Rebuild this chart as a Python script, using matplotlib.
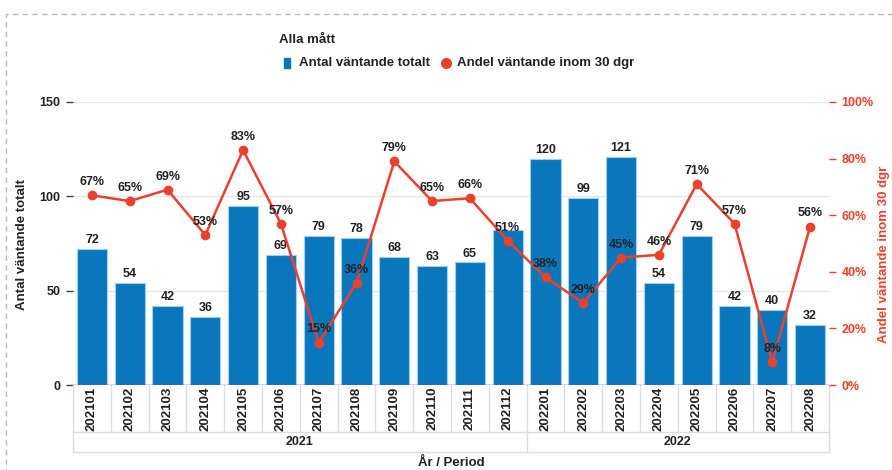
import matplotlib.pyplot as plt
import matplotlib.transforms as mtransforms
from matplotlib.lines import Line2D
from matplotlib.patches import Rectangle

plt.rcParams['font.family'] = ['Liberation Sans', 'DejaVu Sans']
plt.rcParams['font.weight'] = 'bold'

periods = ['202101', '202102', '202103', '202104', '202105', '202106', '202107',
           '202108', '202109', '202110', '202111', '202112', '202201', '202202',
           '202203', '202204', '202205', '202206', '202207', '202208']
years = ['2021', '2022']
antal = [72, 54, 42, 36, 95, 69, 79, 78, 68, 63, 65, 82, 120, 99, 121, 54, 79, 42, 40, 32]
andel = [67, 65, 69, 53, 83, 57, 15, 36, 79, 65, 66, 51, 38, 29, 45, 46, 71, 57, 8, 56]
hidden_bar_labels = ['202112']

BLUE = '#0a77bd'
RED = '#e8412c'
DARK = '#222222'

W, H = 892, 470
fig = plt.figure(figsize=(W / 100, H / 100), dpi=100)

# plot area in pixels
x0, x1, y0, y1 = 73, 829, 102, 385
ax = fig.add_axes([x0 / W, 1 - y1 / H, (x1 - x0) / W, (y1 - y0) / H])
ax2 = ax.twinx()

xs = list(range(len(periods)))
ax.bar(xs, antal, width=0.8, color=BLUE, edgecolor='#9fd0f0', linewidth=0.8, zorder=2)
for x, v, p in zip(xs, antal, periods):
    if p in hidden_bar_labels:
        continue
    ax.text(x, v + 1.5, str(v), ha='center', va='bottom', fontsize=9, color=DARK, zorder=5)

ax2.plot(xs, [a / 100 for a in andel], color=RED, lw=1.8, marker='o', ms=6, zorder=3)
for x, a in zip(xs, andel):
    ax2.text(x, a / 100 + 0.025, '%d%%' % a, ha='center', va='bottom', fontsize=9,
             color=DARK, zorder=6)

ax.set_xlim(-0.5, len(periods) - 0.5)
ax.set_ylim(0, 150)
ax2.set_ylim(0, 1)
ax.set_yticks([0, 50, 100, 150])
ax2.set_yticks([0, 0.2, 0.4, 0.6, 0.8, 1.0])
ax2.set_yticklabels(['0%', '20%', '40%', '60%', '80%', '100%'])
ax.yaxis.grid(True, color='#e6e6e6', lw=1)
ax.set_axisbelow(True)
ax.set_xticks([])

for a in (ax, ax2):
    for s in ('top', 'left', 'right', 'bottom'):
        a.spines[s].set_visible(False)
ax.axhline(0, color='#555555', lw=1, zorder=4)

ax.tick_params(axis='y', length=5, width=1, pad=4, color='#444444', labelsize=9, labelcolor=DARK)
ax2.tick_params(axis='y', length=5, width=1, pad=4, color=RED, labelsize=9, labelcolor=RED)

# two-level category axis
tr = mtransforms.blended_transform_factory(ax.transData, ax.transAxes)
ph = y1 - y0
row1 = -(432 - y1) / ph
row2 = -(452 - y1) / ph
grid_c = '#dddddd'
for i in range(len(periods) + 1):
    ax.add_line(Line2D([i - 0.5, i - 0.5], [0, row1], transform=tr, color=grid_c, lw=1, clip_on=False))
for x, p in zip(xs, periods):
    ax.text(x, row1 / 2, p, transform=tr, rotation=90, ha='center', va='center',
            fontsize=9.5, color=DARK)
bounds = [-0.5, 11.5, 19.5]
for b in bounds:
    ax.add_line(Line2D([b, b], [row1, row2], transform=tr, color=grid_c, lw=1, clip_on=False))
for yy in (row1, row2):
    ax.add_line(Line2D([-0.5, 19.5], [yy, yy], transform=tr, color=grid_c, lw=1, clip_on=False))
for yr, a, b in zip(years, bounds[:-1], bounds[1:]):
    ax.text((a + b) / 2, (row1 + row2) / 2, yr, transform=tr, ha='center', va='center',
            fontsize=9, color=DARK)

fig.text(451 / W, 1 - 463 / H, 'År / Period', ha='center', va='center', fontsize=9.5, color=DARK)
fig.text(22 / W, 1 - 245 / H, 'Antal väntande totalt', rotation=90, ha='center', va='center',
         fontsize=9.5, color=DARK)
fig.text(884 / W, 1 - 254 / H, 'Andel väntande inom 30 dgr', rotation=90, ha='center',
         va='center', fontsize=9.5, color=RED)

# title and legend
fig.text(279 / W, 1 - 40 / H, 'Alla mått', ha='left', va='center', fontsize=9.5, color=DARK)
fig.patches.append(Rectangle((284 / W, 1 - 68 / H), 6 / W, 10 / H, transform=fig.transFigure,
                             color=BLUE, zorder=5))
fig.text(299 / W, 1 - 63 / H, 'Antal väntande totalt', ha='left', va='center', fontsize=9.5, color=DARK)
fig.lines.append(Line2D([446 / W], [1 - 63 / H], transform=fig.transFigure, marker='o',
                        ms=7, color=RED, lw=0))
fig.text(457 / W, 1 - 63 / H, 'Andel väntande inom 30 dgr', ha='left', va='center', fontsize=9.5,
         color=DARK)

# dashed outer frame
fig.patches.append(Rectangle((6 / W, -0.05), 1.1, 1 - 14 / H + 0.05, transform=fig.transFigure,
                             fill=False, edgecolor='#bbbbbb', lw=1, ls=(0, (4, 3))))

fig.savefig('out.png', dpi=100)
